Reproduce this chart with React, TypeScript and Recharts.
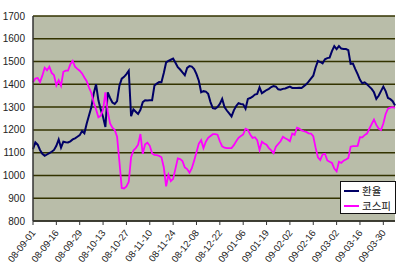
import { CartesianGrid, Line, LineChart, XAxis, YAxis } from 'recharts';

// every 10th trading day gets a label
const tickLabels = [
  '08-09-01', '08-09-16', '08-09-29', '08-10-13', '08-10-27', '08-11-10', '08-11-24', '08-12-08',
  '08-12-22', '09-01-06', '09-01-19', '09-02-02', '09-02-16', '09-03-02', '09-03-16', '09-03-30',
];

const exchangeRate = [
  1115, 1145, 1135, 1112, 1095, 1086, 1092, 1098, 1104, 1112,
  1130, 1158, 1122, 1148, 1146, 1145, 1150, 1158, 1163, 1170,
  1177, 1195, 1185, 1228, 1264, 1300, 1360, 1400, 1330, 1290,
  1257, 1213, 1365, 1340, 1320, 1314, 1326, 1394, 1425, 1433,
  1445, 1460, 1260, 1290, 1280, 1270, 1288, 1322, 1330, 1329,
  1330, 1330, 1395, 1403, 1410, 1409, 1450, 1496, 1503, 1508,
  1513, 1495, 1475, 1465, 1452, 1440, 1472, 1480, 1478, 1467,
  1445, 1416, 1365, 1370, 1368, 1358, 1322, 1295, 1293, 1300,
  1314, 1336, 1300, 1285, 1272, 1259, 1286, 1305, 1317, 1314,
  1312, 1293, 1336, 1340, 1346, 1355, 1358, 1387, 1361, 1368,
  1375, 1380, 1388, 1392, 1390, 1378, 1376, 1380, 1382, 1386,
  1390, 1384, 1384, 1384, 1385, 1384, 1392, 1400, 1412, 1425,
  1438, 1474, 1503, 1498, 1492, 1510, 1515, 1517, 1546, 1568,
  1555, 1568, 1557, 1555, 1555, 1550, 1490, 1491, 1467, 1445,
  1420, 1405, 1409, 1400, 1390, 1380, 1365, 1336, 1350, 1370,
  1390, 1370, 1340, 1335, 1326, 1307,
];

const kospi = [
  1409, 1425, 1428, 1410, 1438, 1473, 1462, 1477, 1450, 1440,
  1395, 1418, 1394, 1455, 1460, 1460, 1488, 1503, 1477, 1468,
  1460, 1448, 1430, 1414, 1385, 1362, 1320, 1290, 1255, 1262,
  1288, 1365, 1280, 1228, 1210, 1200, 1170, 1060, 945, 943,
  952, 972, 1080, 1110, 1120, 1135, 1182, 1095, 1137, 1144,
  1130, 1097, 1090, 1089, 1086, 1080, 1036, 952, 1003, 975,
  985, 1030, 1075, 1072, 1063, 1035, 1028, 1012, 1032, 1065,
  1102, 1140, 1155, 1120, 1148, 1165, 1173, 1181, 1181, 1179,
  1150, 1128, 1122, 1120, 1120, 1120, 1133, 1150, 1165, 1173,
  1180, 1205, 1200, 1180, 1165, 1168, 1155, 1112, 1148, 1140,
  1135, 1120, 1110, 1098, 1126, 1138, 1150, 1170, 1163, 1158,
  1150, 1184, 1178, 1210, 1206, 1198, 1194, 1191, 1185, 1184,
  1172, 1122, 1080, 1068, 1092, 1095, 1066, 1060, 1055, 1030,
  1018, 1060, 1055, 1065, 1070, 1076, 1126, 1129, 1129, 1130,
  1168, 1167, 1177, 1184, 1205, 1225, 1245, 1222, 1206, 1199,
  1228, 1270, 1293, 1298, 1300, 1297,
];

const seriesNames = ['환율', '코스피'];
const seriesColors = ['#000066', '#ff00ff'];

const yTicks = [800, 900, 1000, 1100, 1200, 1300, 1400, 1500, 1600, 1700];

const data = exchangeRate.map((v, i) => ({ idx: i, rate: v, kospi: kospi[i] }));
const xTicks = tickLabels.map((_, k) => k * 10);
const lastIdx = exchangeRate.length - 1;

const FONT = '"Liberation Sans", Arial, sans-serif';

function DateTick(props: any) {
  const { x, y, payload } = props;
  const px = x + 3;
  const py = y + 6;
  return (
    <text
      x={px}
      y={py}
      transform={`rotate(-52 ${px} ${py})`}
      textAnchor="end"
      fontSize={9.5}
      fontFamily={FONT}
      fill="#222"
    >
      {tickLabels[payload.value / 10]}
    </text>
  );
}

export default function App() {
  return (
    <div style={{ position: 'absolute', left: 0, top: 0, width: 400, height: 273, background: '#fff' }}>
      <LineChart
        width={400}
        height={273}
        data={data}
        margin={{ top: 16, right: 5, left: 0, bottom: 0 }}
        style={{ position: 'absolute', left: 0, top: 0 }}
      >
        <CartesianGrid vertical={false} stroke="#333300" strokeWidth={1.5} fill="#b9bda9" fillOpacity={1} />
        <YAxis
          domain={[800, 1700]}
          ticks={yTicks}
          interval={0}
          width={33}
          tickLine={false}
          tickSize={6}
          tickMargin={2}
          axisLine={{ stroke: '#333', strokeWidth: 1.5 }}
          tick={{ fontSize: 10, fill: '#222', fontFamily: FONT }}
        />
        <XAxis
          dataKey="idx"
          type="number"
          domain={[0, lastIdx]}
          ticks={xTicks}
          interval={0}
          height={52}
          tick={<DateTick />}
          tickSize={4}
          tickLine={{ stroke: '#333' }}
          axisLine={{ stroke: '#333', strokeWidth: 1.5 }}
        />
        <Line type="linear" dataKey="rate" name="환율" stroke="#000066" strokeWidth={2} dot={false} isAnimationActive={false} />
        <Line type="linear" dataKey="kospi" name="코스피" stroke="#ff00ff" strokeWidth={1.8} dot={false} isAnimationActive={false} />
      </LineChart>
      <div
        style={{
          position: 'absolute',
          left: 340,
          top: 181,
          boxSizing: 'border-box',
          width: 56,
          height: 33,
          border: '1.5px solid #111',
          background: '#fff',
          padding: '1px 0 0 3px',
          fontFamily: '"Noto Sans CJK KR", sans-serif',
          fontSize: 10.5,
          lineHeight: '14px',
          color: '#111',
        }}
      >
        {seriesNames.map((name, k) => (
          <div key={name} style={{ display: 'flex', alignItems: 'center', height: 15 }}>
            <span style={{ display: 'inline-block', width: 15, height: 2, background: seriesColors[k], marginRight: 3 }} />
            {name}
          </div>
        ))}
      </div>
    </div>
  );
}
